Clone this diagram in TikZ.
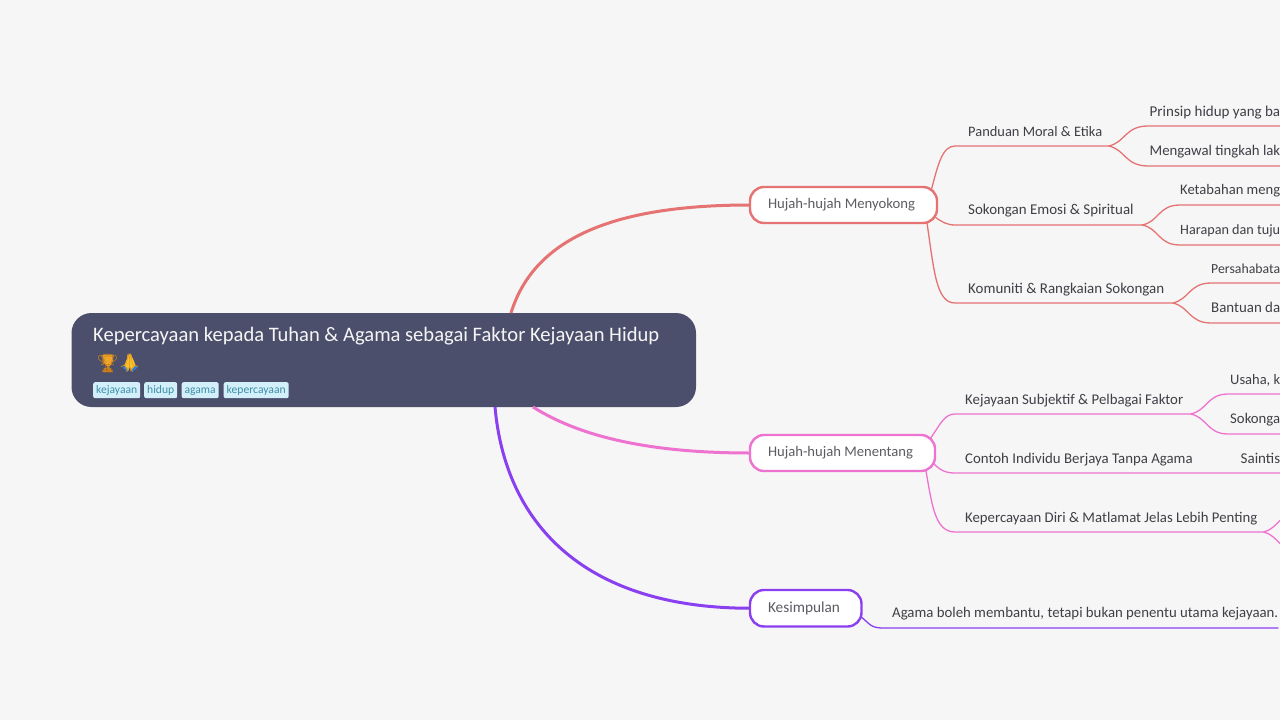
\documentclass[tikz,border=0pt]{standalone}
\usepackage{fontspec}
\usepackage{graphicx}
\setmainfont{Carlito}
\newfontfamily\emojifont{Noto Emoji}
\usetikzlibrary{calc}
\definecolor{bgc}{HTML}{F6F6F6}
\definecolor{rootc}{HTML}{4C4F6B}
\definecolor{redc}{HTML}{E57373}
\definecolor{pinkc}{HTML}{EE72D0}
\definecolor{purc}{HTML}{8A3FF0}
\definecolor{txtc}{HTML}{3F3F46}
\definecolor{tagf}{HTML}{D3F0FA}
\definecolor{tagt}{HTML}{3F8EA5}
\definecolor{goldc}{HTML}{F0A52A}
\definecolor{goldd}{HTML}{C77F1A}
\definecolor{handc}{HTML}{FBC02D}
\definecolor{handd}{HTML}{E8A020}
\definecolor{sleevec}{HTML}{2F7FD0}
\definecolor{basec}{HTML}{8D5A3C}
\newcommand{\fitw}[2]{\resizebox{#1pt}{!}{#2}}
\newcommand{\boxtext}[3]{\makebox[#2pt][l]{\fitw{#1}{#3}}}
\tikzset{
 x=1pt,y=-1pt,
 mainbox/.style={draw,fill=white,line width=2.4pt,rounded corners=14pt,inner sep=0pt,outer sep=0pt,anchor=north west,font=\fontsize{14.5}{16}\selectfont,text=txtc!85!white},
 leaf/.style={inner sep=0pt,anchor=base west,text=txtc,font=\fontsize{14.5}{16}\selectfont},
 tag/.style={fill=tagf,rounded corners=2pt,inner sep=0pt,anchor=north west,minimum height=16pt,text=tagt,font=\fontsize{12}{13}\selectfont},
 emoji/.style={inner sep=0pt,anchor=center,font=\emojifont\fontsize{18}{20}\selectfont},
 bigline/.style={line width=3pt},
 thin1/.style={line width=1.3pt},
}
\begin{document}
\begin{tikzpicture}
\path[fill=bgc] (0,0) rectangle (1280,720);
\useasboundingbox (0,0) rectangle (1280,720);

\node[fill=rootc,rounded corners=20pt,inner sep=0pt,outer sep=0pt,anchor=north west,minimum width=624.5pt,minimum height=94pt] (root) at (71.5,313) {};
\node[inner sep=0pt,anchor=base west,text=white!96!black,font=\fontsize{20}{22}\selectfont] (title) at (93,341) {\fitw{566}{Kepercayaan kepada Tuhan \& Agama sebagai Faktor Kejayaan Hidup}};

% colour of the two emoji, under their glyphs
\fill[goldc] (103,354.5) -- (113.5,354.5) -- (113,361) .. controls (112.5,364) and (110,365.5) .. (109.5,366) -- (107,366) .. controls (106,365.5) and (104,364) .. (103.5,361) -- cycle;
\fill[basec] (104,369.5) -- (112.5,369.5) -- (113,372.5) -- (103.5,372.5) -- cycle;
\fill[goldd] (107.3,366) rectangle (109.3,369.5);
\fill[handc] (130,353.5) .. controls (132,356) and (135,363) .. (136,367) -- (132,370.5) -- (130,367) -- (128,370.5) -- (124,367) .. controls (125,363) and (128,356) .. (130,353.5) -- cycle;
\fill[sleevec] (122.5,367.5) -- (124.5,365.8) -- (128.5,369.5) -- (127.5,371.5) -- cycle;
\fill[sleevec] (137.5,367.5) -- (135.5,365.8) -- (131.5,369.5) -- (132.5,371.5) -- cycle;
\node[emoji,text=goldd] (em1) at (107.5,363) {🏆};
\node[emoji,text=handd] (em2) at (129.5,363) {🙏};

\node[tag,minimum width=47pt] (t1) at (93,382) {\fitw{41}{kejayaan}};
\node[tag,minimum width=33pt] (t2) at (144,382) {\fitw{27}{hidup}};
\node[tag,minimum width=37pt] (t3) at (181.5,382) {\vphantom{hp}\fitw{31}{agama}};
\node[tag,minimum width=65pt] (t4) at (223.5,382) {\fitw{59}{kepercayaan}};

% main nodes
\node[mainbox,draw=redc,minimum width=187pt,minimum height=36pt] (n1) at (750,187) {\boxtext{147}{151}{Hujah-hujah Menyokong}};
\node[mainbox,draw=pinkc,minimum width=185pt,minimum height=36pt] (n2) at (750,435) {\boxtext{145}{149}{Hujah-hujah Menentang}};
\node[mainbox,draw=purc,minimum width=111.5pt,minimum height=36.5pt] (n3) at (750,590) {\boxtext{72}{75.5}{Kesimpulan}};

\draw[redc,bigline] ([xshift=439.5pt]root.north west) .. controls (535,235) and (620,205) .. (n1.west);
\draw[pinkc,bigline] ([xshift=461.5pt]root.south west) .. controls (585,440) and (660,453) .. (n2.west);
\draw[purc,bigline] ([xshift=423.5pt]root.south west) .. controls (505,520) and (580,608) .. (n3.west);

% level 2 texts
\node[leaf] (a) at (968,136) {\fitw{134}{Panduan Moral \& Etika}};
\node[leaf] (b) at (968,214.5) {\fitw{165.5}{Sokongan Emosi \& Spiritual}};
\node[leaf] (c) at (968,293) {\fitw{196}{Komuniti \& Rangkaian Sokongan}};
\node[leaf] (d) at (965,404) {\fitw{218}{Kejayaan Subjektif \& Pelbagai Faktor}};
\node[leaf] (e) at (965,463) {\fitw{227.5}{Contoh Individu Berjaya Tanpa Agama}};
\node[leaf] (f) at (965,522) {\fitw{292}{Kepercayaan Diri \& Matlamat Jelas Lebih Penting}};
\node[leaf] (g) at (892,617) {\fitw{386}{Agama boleh membantu, tetapi bukan penentu utama kejayaan.}};

% level 3 texts (the reference shows only these parts, up to the page edge)
\node[leaf] (a1) at (1149.5,116.5) {\fitw{130.5}{Prinsip hidup yang ba}};
\node[leaf] (a2) at (1149.5,155.5) {\fitw{130.5}{Mengawal tingkah lak}};
\node[leaf] (b1) at (1180,194.5) {\fitw{100}{Ketabahan meng}};
\node[leaf] (b2) at (1180,234) {\fitw{100}{Harapan dan tuju}};
\node[leaf] (c1) at (1211,273) {\fitw{69}{Persahabata}};
\node[leaf] (c2) at (1211,312.5) {\fitw{69}{Bantuan da}};
\node[leaf] (d1) at (1230,384) {\fitw{50}{Usaha, k}};
\node[leaf] (d2) at (1230,423) {\fitw{50}{Sokonga}};
\node[leaf] (e1) at (1240.5,463) {\fitw{39.5}{Saintis}};

% level 2 connectors
\begin{scope}[redc,thin1]
\draw (n1.north east)++(-6,4) .. controls (938,165) and (942,146) .. (955,146) -- ([xshift=6pt,yshift=-10pt]a.base east) coordinate (ae);
\draw (n1.south east)++(-2,-6) .. controls (942,222) and (947,225) .. (955,225) -- ([xshift=8pt,yshift=-10.5pt]b.base east) coordinate (be);
\draw (n1.south east)++(-10,0) .. controls (934,270) and (936,303) .. (955,303) -- ([xshift=8pt,yshift=-10pt]c.base east) coordinate (ce);
\draw (ae) .. controls (1125,143) and (1125,126) .. (1148,126) -- (1290,126);
\draw (ae) .. controls (1125,149) and (1125,166) .. (1148,166) -- (1290,166);
\draw (be) .. controls (1159,222) and (1158,205) .. (1180,205) -- (1290,205);
\draw (be) .. controls (1159,228) and (1158,245) .. (1180,245) -- (1290,245);
\draw (ce) .. controls (1189,300) and (1189,283) .. (1211,283) -- (1290,283);
\draw (ce) .. controls (1189,306) and (1189,323) .. (1211,323) -- (1290,323);
\end{scope}
\begin{scope}[pinkc,thin1]
\draw (n2.north east)++(-5,4) .. controls (940,425) and (944,414) .. (955,414) -- ([xshift=7pt,yshift=-10pt]d.base east) coordinate (de);
\draw (n2.south east)++(-2,-8) .. controls (940,470) and (945,473) .. (955,473) -- ([xshift=50pt,yshift=-10pt]e1.base east);
\draw (n2.south east)++(-9,0) .. controls (932,505) and (935,532) .. (955,532) -- ([xshift=6pt,yshift=-10pt]f.base east) coordinate (fe);
\draw (de) .. controls (1207,411) and (1207,394) .. (1228,394) -- (1290,394);
\draw (de) .. controls (1207,417) and (1207,434) .. (1228,434) -- (1290,434);
\draw (fe) .. controls (1278,529) and (1280,512) .. (1300,512);
\draw (fe) .. controls (1278,535) and (1280,552) .. (1300,552);
\end{scope}
\draw[purc,thin1] (n3.east) ++(0,9) .. controls (868,622) and (870,628) .. (882,628) -- ([yshift=-11pt]g.base east);
\end{tikzpicture}
\end{document}
